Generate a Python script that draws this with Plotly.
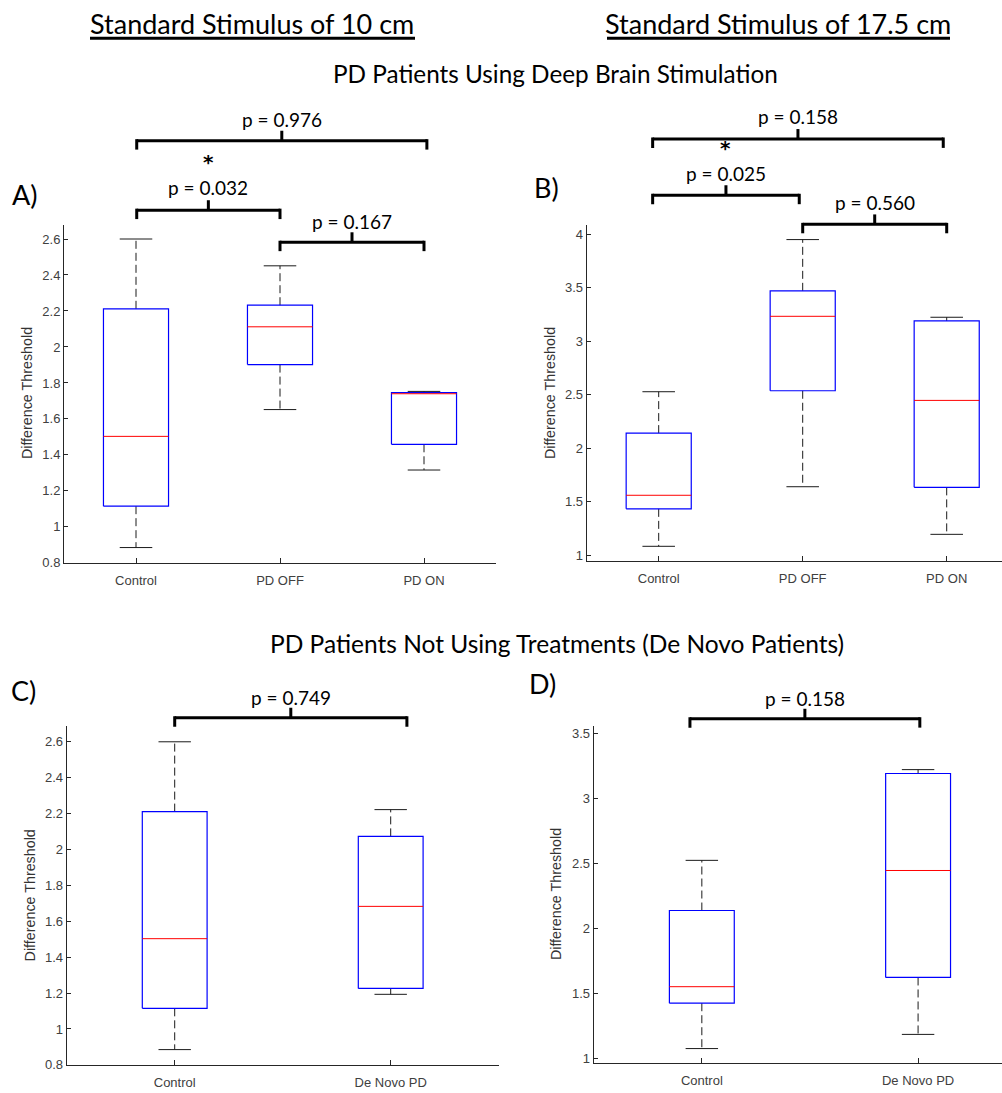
import plotly.graph_objects as go

# ---------------- data ----------------
cats_dbs = ["Control", "PD OFF", "PD ON"]
cats_dn = ["Control", "De Novo PD"]

# Panel A: 10 cm, DBS
A_low = [0.885, 1.652, 1.316]
A_q1 = [1.115, 1.902, 1.459]
A_med = [1.503, 2.112, 1.740]
A_q3 = [2.212, 2.232, 1.746]
A_high = [2.600, 2.451, 1.753]

# Panel B: 17.5 cm, DBS
B_low = [1.083, 1.640, 1.195]
B_q1 = [1.433, 2.537, 1.634]
B_med = [1.560, 3.233, 2.447]
B_q3 = [2.141, 3.471, 3.190]
B_high = [2.528, 3.950, 3.224]

# Panel C: 10 cm, de novo
C_low = [0.885, 1.193]
C_q1 = [1.115, 1.226]
C_med = [1.503, 1.683]
C_q3 = [2.211, 2.073]
C_high = [2.600, 2.222]

# Panel D: 17.5 cm, de novo
D_low = [1.079, 1.188]
D_q1 = [1.428, 1.626]
D_med = [1.555, 2.449]
D_q3 = [2.141, 3.195]
D_high = [2.527, 3.225]

ticks_10 = [0.8, 1.0, 1.2, 1.4, 1.6, 1.8, 2.0, 2.2, 2.4, 2.6]
ticklab_10 = ["0.8", "1", "1.2", "1.4", "1.6", "1.8", "2", "2.2", "2.4", "2.6"]
ticks_B = [1, 1.5, 2, 2.5, 3, 3.5, 4]
ticklab_B = ["1", "1.5", "2", "2.5", "3", "3.5", "4"]
ticks_D = [1, 1.5, 2, 2.5, 3, 3.5]
ticklab_D = ["1", "1.5", "2", "2.5", "3", "3.5"]

# significance brackets: (left end, right end [group axis units], label, star)
brk_A = [(1.005, 3.02, "p = 0.976", False), (1.005, 2.0, "p = 0.032", True), (2.0, 3.0, "p = 0.167", False)]
brk_B = [(0.958, 2.976, "p = 0.158", False), (0.958, 1.976, "p = 0.025", True), (2.0, 3.0, "p = 0.560", False)]
brk_C = [(1.0, 2.075, "p = 0.749", False)]
brk_D = [(0.945, 2.008, "p = 0.158", False)]

# ---------------- layout helpers ----------------
W, H = 1002, 1093
def PX(x):
    return x / W
def PY(y):
    return 1 - y / H

TITLE_FONT = "Lato, Carlito, Open Sans, sans-serif"
STAR_FONT = "DejaVu Sans, sans-serif"
AX_FONT = "Liberation Sans, Arial, sans-serif"
AX_COLOR = "#262626"

fig = go.Figure()

panels = [
    ("1", (A_low, A_q1, A_med, A_q3, A_high), cats_dbs, 0.226, (64, 496), (227, 567), (0.8, 2.676), (ticks_10, ticklab_10), (0.5, 3.5)),
    ("2", (B_low, B_q1, B_med, B_q3, B_high), cats_dbs, 0.226, (586.7, 1002), (226.7, 565), (0.947, 4.086), (ticks_B, ticklab_B), (0.5, 3.384)),
    ("3", (C_low, C_q1, C_med, C_q3, C_high), cats_dn, 0.150, (66.7, 498.7), (731.7, 1072.7), (0.8, 2.686), (ticks_10, ticklab_10), (0.5, 2.5)),
    ("4", (D_low, D_q1, D_med, D_q3, D_high), cats_dn, 0.150, (593.7, 1002), (731.7, 1070.7), (0.969, 3.558), (ticks_D, ticklab_D), (0.5, 2.388)),
]

for name, (lo, q1, med, q3, hi), cats, hw, xd, yd, yr, (tv, tt), xr in panels:
    xa = "x" if name == "1" else "x" + name
    ya = "y" if name == "1" else "y" + name
    pos = list(range(1, len(cats) + 1))
    wx, wy, cx, cy, bx, by, mx, my = [], [], [], [], [], [], [], []
    for p, l, a, m, b, h in zip(pos, lo, q1, med, q3, hi):
        wx += [p, p, None, p, p, None]
        wy += [b, h, None, a, l, None]
        cx += [p - hw / 2, p + hw / 2, None, p - hw / 2, p + hw / 2, None]
        cy += [h, h, None, l, l, None]
        bx += [p - hw, p + hw, p + hw, p - hw, p - hw, None]
        by += [a, a, b, b, a, None]
        mx += [p - hw, p + hw, None]
        my += [m, m, None]
    common = dict(xaxis=xa, yaxis=ya, mode="lines", showlegend=False, hoverinfo="skip")
    fig.add_trace(go.Scatter(x=wx, y=wy, line=dict(color="#1a1a1a", width=1, dash="8px,4px"), **common))
    fig.add_trace(go.Scatter(x=cx, y=cy, line=dict(color="#1a1a1a", width=1), **common))
    fig.add_trace(go.Scatter(x=bx, y=by, line=dict(color="#0000ff", width=1.2), **common))
    fig.add_trace(go.Scatter(x=mx, y=my, line=dict(color="#ff0000", width=1), **common))

    axx = dict(domain=[PX(xd[0]), PX(xd[1])], range=list(xr), anchor=ya,
               tickmode="array", tickvals=pos, ticktext=cats,
               showline=True, linecolor=AX_COLOR, linewidth=1, ticks="inside", ticklen=5,
               tickcolor=AX_COLOR, showgrid=False, zeroline=False, ticklabelstandoff=6,
               tickfont=dict(family=AX_FONT, size=13, color="#404040"))
    axy = dict(domain=[PY(yd[1]), PY(yd[0])], range=list(yr), anchor=xa,
               tickmode="array", tickvals=tv, ticktext=tt,
               showline=True, linecolor=AX_COLOR, linewidth=1, ticks="inside", ticklen=4,
               tickcolor=AX_COLOR, showgrid=False, zeroline=False,
               tickfont=dict(family=AX_FONT, size=13, color="#404040"))
    fig.layout["xaxis" if name == "1" else "xaxis" + name] = axx
    fig.layout["yaxis" if name == "1" else "yaxis" + name] = axy

shapes = []
annos = []

def bracket(xref, i, j, bar_y, label, star, text_base, fs=19):
    lw = 3
    ln = dict(color="black", width=lw)
    shapes.append(dict(type="line", xref=xref, yref="paper", x0=i, x1=j, y0=PY(bar_y), y1=PY(bar_y), line=ln))
    shapes.append(dict(type="line", xref=xref, yref="paper", x0=i, x1=i, y0=PY(bar_y - 1.5), y1=PY(bar_y + 9), line=ln))
    shapes.append(dict(type="line", xref=xref, yref="paper", x0=j, x1=j, y0=PY(bar_y - 1.5), y1=PY(bar_y + 9), line=ln))
    mid = (i + j) / 2
    shapes.append(dict(type="line", xref=xref, yref="paper", x0=mid, x1=mid, y0=PY(bar_y), y1=PY(bar_y - 10), line=ln))
    annos.append(dict(xref=xref, yref="paper", x=mid, y=PY(text_base - 0.36 * fs), text=label, showarrow=False,
                      xanchor="center", yanchor="middle", font=dict(family=TITLE_FONT, size=fs, color="black")))
    if star:
        # asterisk placed just above the label's text box
        top_of_label = text_base - 0.99 * fs - 1
        annos.append(dict(xref=xref, yref="paper", x=mid, y=PY(top_of_label), text="*", showarrow=False,
                          xanchor="center", yanchor="bottom", borderpad=0,
                          font=dict(family=STAR_FONT, size=20, color="black", weight="bold")))

bar_ys = {"x": [141.7, 211.7, 244], "x2": [140, 196.7, 226], "x3": [723], "x4": [724]}
txt_ys = {"x": [127, 195.7, 230], "x2": [124, 181.7, 210.7], "x3": [709], "x4": [710]}
for xref, brks in (("x", brk_A), ("x2", brk_B), ("x3", brk_C), ("x4", brk_D)):
    for k, (i, j, lab, st) in enumerate(brks):
        bracket(xref, i, j, bar_ys[xref][k], lab, st, txt_ys[xref][k])

def txt(x, y, s, size, anchor="center"):
    annos.append(dict(xref="paper", yref="paper", x=PX(x), y=PY(y), text=s, showarrow=False,
                      xanchor=anchor, yanchor="middle", font=dict(family=TITLE_FONT, size=size, color="black")))

txt(252, 33 - 0.36 * 27, "Standard Stimulus of 10 cm", 27)
txt(777.5, 33 - 0.36 * 27, "Standard Stimulus of 17.5 cm", 27)
shapes.append(dict(type="line", xref="paper", yref="paper", x0=PX(90), x1=PX(415), y0=PY(38.5), y1=PY(38.5), line=dict(color="black", width=3)))
shapes.append(dict(type="line", xref="paper", yref="paper", x0=PX(607), x1=PX(950), y0=PY(38.5), y1=PY(38.5), line=dict(color="black", width=3)))
txt(555, 83 - 0.36 * 24.3, "PD Patients Using Deep Brain Stimulation", 24.3)
txt(557, 648, "PD Patients Not Using Treatments (De Novo Patients)", 24.5)

txt(25, 196, "A)", 27)
txt(546, 189, "B)", 27)
txt(23, 696, "C)", 27)
txt(542, 689, "D)", 27)

for x, y in ((27, 396), (550, 396), (30, 902), (556.7, 901)):
    annos.append(dict(xref="paper", yref="paper", x=PX(x), y=PY(y), text="Difference Threshold", textangle=-90,
                      showarrow=False, xanchor="center", yanchor="middle",
                      font=dict(family=AX_FONT, size=14.3, color="#333333")))

fig.update_layout(width=W, height=H, margin=dict(l=0, r=0, t=0, b=0),
                  paper_bgcolor="white", plot_bgcolor="white",
                  shapes=shapes, annotations=annos, showlegend=False)

fig.write_html("out.html")
